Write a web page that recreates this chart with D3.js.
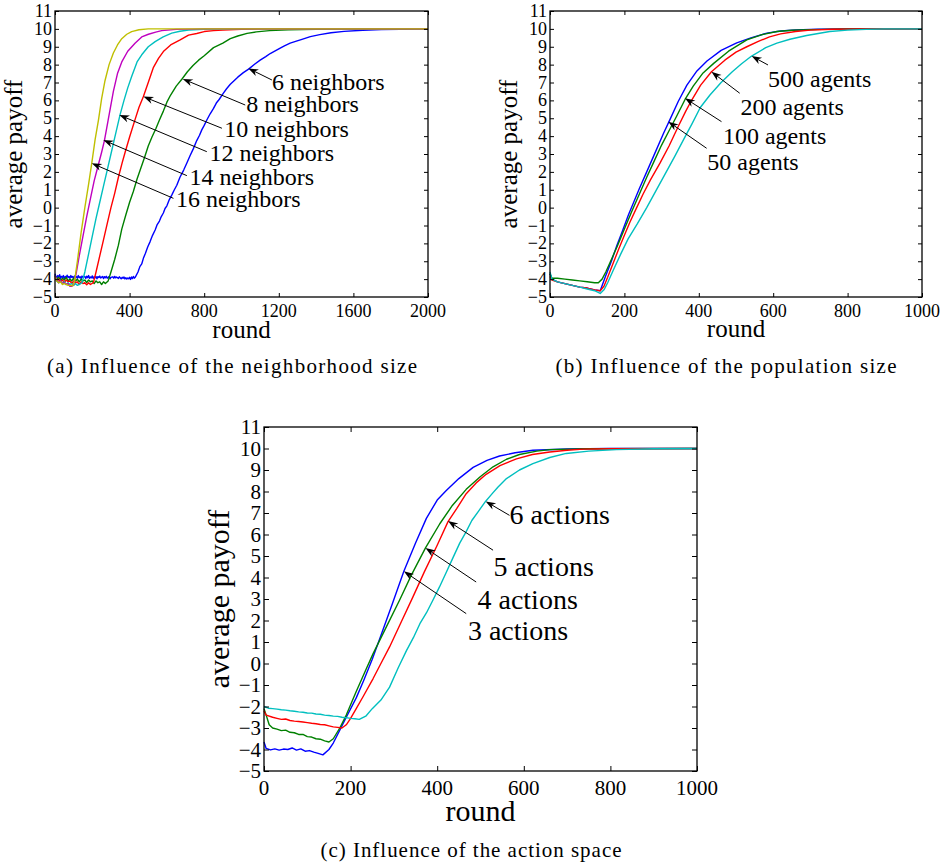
<!DOCTYPE html>
<html><head><meta charset="utf-8">
<script src="https://cdn.jsdelivr.net/npm/d3@7"></script>
<style>body{margin:0;background:#fff}</style>
</head><body>
<script>
// ---------- tick labels ----------
const yTickValues = [-5,-4,-3,-2,-1,0,1,2,3,4,5,6,7,8,9,10,11];
const xTicksA = [0,400,800,1200,1600,2000];
const xTicksB = [0,200,400,600,800,1000];
const xTicksC = [0,200,400,600,800,1000];

// ---------- (a) neighbourhood size: [round, average payoff] ----------
const neigh6 = [[0,-3.7],[5,-3.85],[10,-3.95],[15,-3.8],[20,-3.9],[25,-3.75],[30,-3.95],[35,-3.85],[40,-3.9],[45,-3.8],[50,-4.0],[55,-3.85],[60,-3.9],[65,-3.78],[70,-3.92],[75,-3.85],[80,-3.95],[85,-3.8],[90,-3.9],[95,-3.85],[100,-3.97],[105,-3.82],[110,-3.9],[115,-3.86],[120,-3.95],[125,-3.8],[130,-3.92],[135,-3.87],[140,-3.96],[145,-3.83],[150,-3.9],[160,-3.85],[165,-3.97],[170,-3.84],[175,-3.92],[180,-3.8],[185,-3.95],[190,-3.88],[195,-3.93],[200,-3.82],[205,-3.96],[210,-3.87],[215,-3.92],[220,-3.85],[225,-3.98],[230,-3.86],[235,-3.91],[240,-3.83],[245,-3.94],[250,-3.89],[255,-3.85],[260,-3.97],[265,-3.86],[270,-3.92],[275,-3.84],[280,-3.95],[285,-3.9],[290,-3.86],[295,-3.98],[300,-3.9],[310,-3.87],[315,-3.95],[320,-3.85],[325,-3.93],[330,-3.88],[340,-3.96],[345,-3.87],[350,-3.93],[355,-3.98],[360,-3.9],[365,-3.95],[370,-3.88],[375,-3.99],[380,-3.92],[385,-4.0],[390,-3.94],[395,-3.98],[400,-3.9],[405,-4.02],[410,-3.88],[415,-3.97],[420,-3.85],[425,-3.95],[430,-3.9],[445,-3.6],[455,-3.3],[465,-3.15],[475,-2.8],[485,-2.55],[497,-2.2],[510,-1.9],[523,-1.55],[537,-1.25],[548,-0.95],[560,-0.75],[570,-0.5],[581,-0.3],[590,-0.05],[600,0.1],[613,0.45],[626,0.7],[640,1.0],[653,1.25],[670,1.7],[690,2.1],[707,2.5],[724,2.9],[742,3.3],[760,3.75],[775,4.05],[787,4.35],[800,4.6],[814,4.9],[832,5.25],[850,5.55],[865,5.85],[880,6.05],[903,6.4],[920,6.65],[940,6.9],[960,7.1],[980,7.3],[1010,7.55],[1038,7.75],[1070,8.02],[1100,8.25],[1130,8.45],[1154,8.62],[1200,8.88],[1230,9.05],[1261,9.2],[1290,9.3],[1320,9.4],[1369,9.57],[1420,9.68],[1480,9.78],[1550,9.86],[1650,9.92],[1750,9.96],[1850,9.98],[2000,10]];
const neigh8 = [[0,-3.8],[10,-4.0],[20,-3.9],[30,-4.1],[40,-3.95],[50,-4.05],[60,-3.9],[70,-4.1],[80,-4.0],[90,-4.1],[100,-3.95],[110,-4.1],[120,-4.0],[130,-4.15],[140,-4.0],[150,-4.1],[160,-4.05],[170,-4.2],[180,-4.05],[190,-4.15],[200,-4.1],[210,-4.25],[220,-4.1],[230,-4.2],[240,-4.15],[250,-4.3],[260,-4.15],[270,-4.25],[285,-4.1],[300,-3.6],[320,-2.9],[340,-2.1],[358,-1.2],[380,-0.4],[400,0.3],[420,0.9],[440,1.6],[460,2.2],[480,2.8],[500,3.45],[520,3.95],[540,4.4],[560,4.9],[581,5.4],[600,5.9],[620,6.3],[650,6.8],[680,7.18],[710,7.6],[740,7.95],[770,8.25],[800,8.5],[850,8.95],[900,9.2],[940,9.45],[980,9.6],[1030,9.75],[1080,9.83],[1150,9.9],[1250,9.95],[1400,9.98],[1600,10],[2000,10]];
const neigh10 = [[0,-3.9],[10,-4.1],[20,-4.0],[30,-4.15],[40,-4.05],[50,-4.2],[60,-4.05],[70,-4.15],[80,-4.1],[90,-4.25],[100,-4.1],[110,-4.2],[120,-4.15],[130,-4.3],[140,-4.15],[150,-4.25],[160,-4.2],[170,-4.32],[180,-4.2],[190,-4.3],[206,-4.2],[220,-3.6],[240,-2.7],[260,-1.8],[280,-0.9],[300,0.0],[320,0.8],[340,1.7],[360,2.5],[376,3.1],[400,3.95],[430,4.95],[450,5.6],[474,6.22],[500,7.0],[528,7.85],[555,8.35],[581,8.73],[620,9.1],[671,9.38],[716,9.65],[760,9.74],[800,9.85],[850,9.9],[900,9.94],[1000,9.98],[1200,10],[2000,10]];
const neigh12 = [[0,-3.8],[10,-4.1],[20,-4.2],[30,-4.1],[40,-4.25],[50,-4.15],[60,-4.3],[70,-4.2],[80,-4.3],[90,-4.25],[100,-4.35],[110,-4.25],[120,-4.35],[130,-4.3],[145,-4.2],[160,-3.6],[180,-2.6],[200,-1.6],[220,-0.6],[240,0.3],[260,1.2],[280,2.1],[300,3.0],[320,3.9],[349,5.2],[370,6.0],[390,6.7],[411,7.33],[440,8.15],[465,8.55],[500,9.0],[537,9.29],[580,9.55],[626,9.76],[670,9.87],[716,9.94],[800,9.98],[1000,10],[2000,10]];
const neigh14 = [[0,-3.8],[10,-4.05],[20,-4.2],[30,-4.1],[40,-4.25],[50,-4.2],[60,-4.3],[70,-4.25],[80,-4.4],[90,-4.4],[100,-4.3],[115,-3.6],[130,-2.7],[150,-1.6],[170,-0.5],[190,0.5],[210,1.5],[230,2.3],[250,3.1],[265,3.75],[285,4.9],[313,6.5],[335,7.5],[358,8.15],[390,8.75],[429,9.2],[465,9.55],[501,9.7],[540,9.82],[572,9.9],[650,9.97],[800,10],[2000,10]];
const neigh16 = [[0,-3.9],[10,-4.1],[20,-4.2],[30,-4.15],[40,-4.3],[50,-4.25],[60,-4.3],[70,-4.35],[80,-4.35],[95,-4.38],[105,-4.1],[120,-3.0],[140,-1.4],[160,0.0],[180,1.3],[197,2.48],[215,3.8],[233,4.9],[250,6.1],[268,7.1],[290,8.0],[313,8.65],[335,9.1],[358,9.45],[385,9.7],[411,9.85],[450,9.95],[500,10],[2000,10]];

// ---------- (b) population size ----------
const agents50 = [[0,-3.7],[5,-4.0],[20,-4.15],[40,-4.25],[60,-4.35],[80,-4.45],[100,-4.5],[120,-4.6],[135,-4.65],[150,-3.8],[165,-3.0],[180,-2.1],[195,-1.3],[211,-0.4],[225,0.3],[240,1.05],[260,2.0],[280,2.95],[305,4.15],[323,4.95],[345,5.95],[368,6.85],[395,7.65],[422,8.2],[460,8.8],[502,9.22],[540,9.5],[583,9.76],[620,9.88],[660,9.94],[720,9.98],[800,10],[1000,10]];
const agents100 = [[0,-3.7],[5,-3.95],[20,-3.95],[40,-4.0],[60,-4.05],[80,-4.1],[100,-4.15],[120,-4.2],[130,-4.2],[140,-4.0],[150,-3.6],[165,-2.9],[180,-2.2],[200,-1.2],[220,-0.2],[240,0.75],[260,1.7],[280,2.6],[300,3.5],[320,4.3],[340,5.1],[363,6.05],[385,6.8],[410,7.5],[440,8.07],[480,8.75],[529,9.38],[570,9.68],[610,9.85],[650,9.92],[700,9.96],[800,10],[1000,10]];
const agents200 = [[0,-3.85],[5,-4.05],[20,-4.15],[40,-4.25],[60,-4.35],[80,-4.45],[100,-4.5],[120,-4.6],[135,-4.65],[145,-4.4],[155,-3.9],[170,-3.1],[185,-2.3],[200,-1.55],[215,-0.8],[233,0.0],[250,0.75],[270,1.55],[296,2.5],[320,3.45],[345,4.55],[365,5.4],[381,6.02],[405,6.85],[434,7.6],[470,8.25],[500,8.7],[529,9.0],[560,9.3],[590,9.55],[620,9.72],[660,9.85],[700,9.93],[760,9.98],[850,10],[1000,10]];
const agents500 = [[0,-3.6],[5,-4.0],[20,-4.15],[40,-4.25],[60,-4.35],[80,-4.45],[100,-4.55],[120,-4.65],[135,-4.8],[145,-4.6],[155,-4.2],[170,-3.5],[190,-2.6],[210,-1.75],[235,-0.9],[260,0.0],[285,0.95],[310,1.9],[335,2.85],[359,3.8],[382,4.7],[404,5.6],[430,6.3],[460,7.0],[490,7.6],[515,8.05],[542,8.48],[580,8.95],[610,9.2],[645,9.42],[690,9.63],[752,9.85],[800,9.93],[850,9.97],[900,10],[1000,10]];

// ---------- (c) action space ----------
const actions3 = [[0,-3.65],[5,-3.95],[15,-4.02],[25,-3.97],[35,-4.03],[45,-3.98],[55,-4.0],[65,-3.93],[75,-4.03],[85,-3.97],[95,-4.08],[105,-4.05],[115,-4.12],[125,-4.18],[136,-4.25],[150,-4.0],[160,-3.7],[175,-3.1],[190,-2.5],[213,-1.6],[230,-0.8],[250,0.2],[270,1.3],[295,2.7],[323,4.29],[350,5.6],[375,6.75],[400,7.6],[421,8.05],[450,8.6],[483,9.12],[515,9.45],[544,9.65],[580,9.8],[621,9.92],[700,9.98],[800,10],[1000,10]];
const actions4 = [[0,-2.1],[5,-2.4],[12,-2.85],[20,-3.0],[30,-3.05],[40,-3.12],[50,-3.1],[60,-3.2],[70,-3.22],[80,-3.3],[90,-3.3],[100,-3.4],[110,-3.42],[120,-3.5],[130,-3.52],[140,-3.6],[150,-3.65],[160,-3.5],[175,-3.0],[190,-2.4],[213,-1.3],[235,-0.3],[252,0.46],[280,1.6],[313,2.94],[340,4.1],[373,5.38],[406,6.5],[435,7.35],[467,8.1],[500,8.7],[529,9.15],[560,9.5],[590,9.72],[630,9.88],[660,9.95],[750,9.99],[1000,10]];
const actions5 = [[0,-2.2],[5,-2.4],[20,-2.5],[30,-2.55],[40,-2.6],[50,-2.58],[60,-2.65],[70,-2.68],[80,-2.7],[90,-2.72],[100,-2.75],[110,-2.78],[120,-2.8],[130,-2.84],[140,-2.85],[150,-2.9],[160,-2.95],[170,-2.97],[180,-3.0],[190,-2.85],[200,-2.55],[213,-2.1],[230,-1.5],[252,-0.7],[270,0.0],[290,0.77],[315,1.85],[344,3.1],[370,4.25],[400,5.5],[425,6.6],[445,7.2],[467,7.9],[490,8.4],[513,8.8],[545,9.2],[583,9.52],[620,9.72],[660,9.84],[700,9.92],[737,9.97],[800,9.99],[1000,10]];
const actions6 = [[0,-2.0],[10,-2.08],[20,-2.1],[30,-2.12],[40,-2.15],[50,-2.17],[60,-2.2],[70,-2.22],[80,-2.25],[90,-2.27],[100,-2.3],[110,-2.31],[120,-2.35],[130,-2.36],[140,-2.4],[150,-2.42],[160,-2.45],[170,-2.46],[180,-2.5],[190,-2.52],[200,-2.55],[210,-2.57],[220,-2.6],[235,-2.45],[250,-2.1],[270,-1.7],[290,-1.1],[310,-0.2],[329,0.6],[345,1.2],[360,1.85],[375,2.35],[390,2.94],[405,3.55],[420,4.2],[436,4.9],[452,5.6],[466,6.1],[480,6.65],[496,7.1],[512,7.55],[527,7.9],[540,8.2],[560,8.6],[590,9.0],[621,9.3],[660,9.58],[698,9.77],[750,9.88],[814,9.95],[900,9.99],[1000,10]];

const FONT = "'Liberation Serif','Times New Roman',serif";

const panels = [
  {box:{l:55,t:11,r:428,b:297}, xMax:2000, xTicks:xTicksA, tickSize:18, labelSize:25, annSize:24, tickLen:4,
   yLabelX:22, xLabelY:338, xTickBase:20,
   series:[[neigh6,"#0000ff"],[neigh8,"#008000"],[neigh10,"#ff0000"],[neigh12,"#00bfbf"],[neigh14,"#bf00bf"],[neigh16,"#bfbf00"]],
   ann:[
     {text:"6 neighbors", tip:[1037,7.79], tail:[1163,7.14], label:[1163,6.58]},
     {text:"8 neighbors", tip:[685,7.2], tail:[1020,5.74], label:[1025,5.37]},
     {text:"10 neighbors", tip:[474,6.21], tail:[895,4.44], label:[907,3.97]},
     {text:"12 neighbors", tip:[345,5.18], tail:[814,3.13], label:[828,2.61]},
     {text:"14 neighbors", tip:[259,3.78], tail:[707,1.79], label:[721,1.27]},
     {text:"16 neighbors", tip:[197,2.48], tail:[635,0.52], label:[649,0.03]}],
   caption:"(a)  Influence of the neighborhood size", capX:232, capY:373, capLen:370},
  {box:{l:550,t:11,r:922,b:297}, xMax:1000, xTicks:xTicksB, tickSize:18, labelSize:25, annSize:24, tickLen:4,
   yLabelX:517, xLabelY:337, xTickBase:20,
   series:[[agents50,"#0000ff"],[agents100,"#008000"],[agents200,"#ff0000"],[agents500,"#00bfbf"]],
   ann:[
     {text:"500 agents", tip:[542,8.48], tail:[586,7.98], label:[586,6.73]},
     {text:"200 agents", tip:[434,7.6], tail:[510,6.4], label:[512,5.18]},
     {text:"100 agents", tip:[363,6.12], tail:[461,4.81], label:[465,3.56]},
     {text:"50 agents", tip:[318,4.81], tail:[421,3.32], label:[423,2.1]}],
   caption:"(b)  Influence of the population size", capX:726, capY:373, capLen:341},
  {box:{l:264,t:427,r:697,b:771}, xMax:1000, xTicks:xTicksC, tickSize:21, labelSize:30, annSize:28, tickLen:5,
   yLabelX:229, xLabelY:821, xTickBase:24,
   series:[[actions3,"#0000ff"],[actions4,"#008000"],[actions5,"#ff0000"],[actions6,"#00bfbf"]],
   ann:[
     {text:"6 actions", tip:[512,7.54], tail:[567,6.89], label:[567,6.47]},
     {text:"5 actions", tip:[425,6.63], tail:[529,5.27], label:[530,4.06]},
     {text:"4 actions", tip:[373,5.37], tail:[490,3.79], label:[493,2.55]},
     {text:"3 actions", tip:[323,4.29], tail:[467,2.32], label:[471,1.08]}],
   caption:"(c)  Influence of the action space", capX:471, capY:857, capLen:301}
];

const svg = d3.select("body").append("svg").attr("width",946).attr("height",865)
  .style("font-family",FONT);

const fmt = d => (d<0 ? "\u2212"+Math.abs(d) : String(d));

panels.forEach(p => {
  const {l,t,r,b} = p.box;
  const x = d3.scaleLinear().domain([0,p.xMax]).range([l,r]);
  const y = d3.scaleLinear().domain([-5,11]).range([b,t]);
  const g = svg.append("g");

  // lines
  const line = d3.line().x(d=>x(d[0])).y(d=>y(d[1]));
  p.series.forEach(([data,color]) => {
    g.append("path").datum(data).attr("d",line).attr("fill","none")
      .attr("stroke",color).attr("stroke-width",1.4).attr("stroke-linejoin","round");
  });

  // axes with inward ticks on all four sides
  const axB = d3.axisBottom(x).tickValues(p.xTicks).tickSizeInner(-p.tickLen).tickSizeOuter(0).tickFormat("");
  const axT = d3.axisTop(x).tickValues(p.xTicks).tickSizeInner(-p.tickLen).tickSizeOuter(0).tickFormat("");
  const axL = d3.axisLeft(y).tickValues(yTickValues).tickSizeInner(-p.tickLen).tickSizeOuter(0).tickFormat("");
  const axR = d3.axisRight(y).tickValues(yTickValues).tickSizeInner(-p.tickLen).tickSizeOuter(0).tickFormat("");
  [[axB,`translate(0,${b})`],[axT,`translate(0,${t})`],[axL,`translate(${l},0)`],[axR,`translate(${r},0)`]]
    .forEach(([ax,tr]) => {
      const a = g.append("g").attr("transform",tr).call(ax);
      a.select(".domain").remove();
      a.selectAll("text").remove();
      a.selectAll("line").attr("stroke","#000").attr("stroke-width",1);
    });
  g.append("rect").attr("x",l).attr("y",t).attr("width",r-l).attr("height",b-t)
    .attr("fill","none").attr("stroke","#000").attr("stroke-width",1.3);

  // tick labels
  g.selectAll(".yl").data(yTickValues).enter().append("text")
    .attr("x",l-3).attr("y",d=>y(d)).attr("dy","0.34em").attr("text-anchor","end")
    .attr("font-size",p.tickSize).text(fmt);
  g.selectAll(".xl").data(p.xTicks).enter().append("text")
    .attr("x",d=>x(d)).attr("y",b+p.xTickBase).attr("text-anchor","middle")
    .attr("font-size",p.tickSize).text(fmt);

  // axis labels
  g.append("text").attr("x",(l+r)/2).attr("y",p.xLabelY).attr("text-anchor","middle")
    .attr("font-size",p.labelSize).text("round");
  g.append("text").attr("transform",`translate(${p.yLabelX},${(t+b)/2}) rotate(-90)`)
    .attr("text-anchor","middle").attr("font-size",p.labelSize).text("average payoff");

  // annotation arrows + labels
  p.ann.forEach(a => {
    const tx=x(a.tip[0]), ty=y(a.tip[1]), sx=x(a.tail[0]), sy=y(a.tail[1]);
    const ang = Math.atan2(ty-sy, tx-sx);
    const L = 10, W = 3.6, back = 7;
    const ux=Math.cos(ang), uy=Math.sin(ang), nx=-uy, ny=ux;
    g.append("line").attr("x1",sx).attr("y1",sy).attr("x2",tx-ux*back).attr("y2",ty-uy*back)
      .attr("stroke","#000").attr("stroke-width",1);
    const pts = [[tx,ty],[tx-ux*L+nx*W,ty-uy*L+ny*W],[tx-ux*back,ty-uy*back],[tx-ux*L-nx*W,ty-uy*L-ny*W]];
    g.append("path").attr("d","M"+pts.map(q=>q.join(",")).join("L")+"Z").attr("fill","#000");
    g.append("text").attr("x",x(a.label[0])).attr("y",y(a.label[1]))
      .attr("font-size",p.annSize).text(a.text);
  });

  // caption
  svg.append("text").attr("x",p.capX).attr("y",p.capY).attr("text-anchor","middle")
    .attr("font-size",21).attr("textLength",p.capLen).attr("lengthAdjust","spacing")
    .text(p.caption);
});
</script>
</body></html>
